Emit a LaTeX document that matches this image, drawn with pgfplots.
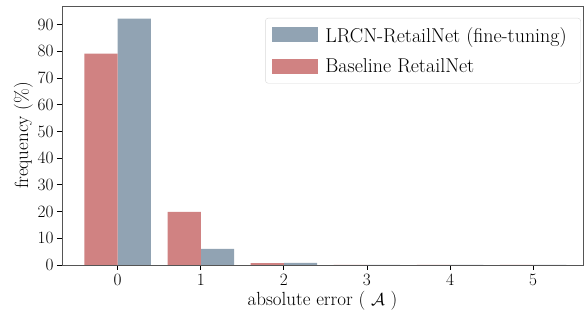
\documentclass[border=0pt]{standalone}
\usepackage{pgfplots}
\pgfplotsset{compat=1.18}
\definecolor{lrcn}{HTML}{91A3B3}
\definecolor{base}{HTML}{D08282}
\definecolor{spine}{HTML}{555555}
\pgfplotsset{patch/.style={legend image code/.code={\fill[##1, sharp corners] (0pt,-7pt) rectangle (46pt,8pt);}}}
\begin{document}
\begin{tikzpicture}
\begin{axis}[
  name=ax,
  scale only axis, width=521pt, height=259pt,
  xmin=-0.67, xmax=5.6, ymin=0, ymax=97,
  xtick={0,1,2,3,4,5}, ytick={0,10,...,90},
  tick align=outside, major tick length=5pt,
  xtick pos=bottom, ytick pos=left,
  axis line style={spine, line width=0.9pt},
  tick style={black, line width=0.8pt},
  tick label style={font=\fontsize{19}{22}\selectfont},
  xticklabel style={yshift=-1pt},
  label style={font=\fontsize{19}{22}\selectfont},
  xlabel={absolute error ( $\mathcal{A}$ )},
  ylabel={frequency (\%)},
  ylabel style={yshift=-2pt},
  xlabel style={yshift=1pt},
  legend style={at={(rel axis cs:0.996,0.954)}, anchor=north east,
    font=\fontsize{20}{23}\selectfont, draw=black!15, rounded corners=3pt,
    row sep=15pt, inner xsep=7pt, inner ysep=9pt,
    nodes={inner xsep=7pt, inner ysep=0pt}},
  legend cell align=left,
]
\addplot[ybar, bar width=0.4, bar shift=0.2, fill=lrcn, draw=none, patch] coordinates {(0,92.3) (1,6.0) (2,0.8) (3,0) (4,0) (5,0)};
\addlegendentry{LRCN-RetailNet (fine-tuning)}
\addplot[ybar, bar width=0.4, bar shift=-0.2, fill=base, draw=none, patch] coordinates {(0,79.2) (1,19.9) (2,0.7) (3,0) (4,0) (5,0)};
\addlegendentry{Baseline RetailNet}
\end{axis}
\pgfresetboundingbox
\path (ax.south west) ++(-62pt,-55pt) rectangle ++(585pt,320pt);
\end{tikzpicture}
\end{document}
